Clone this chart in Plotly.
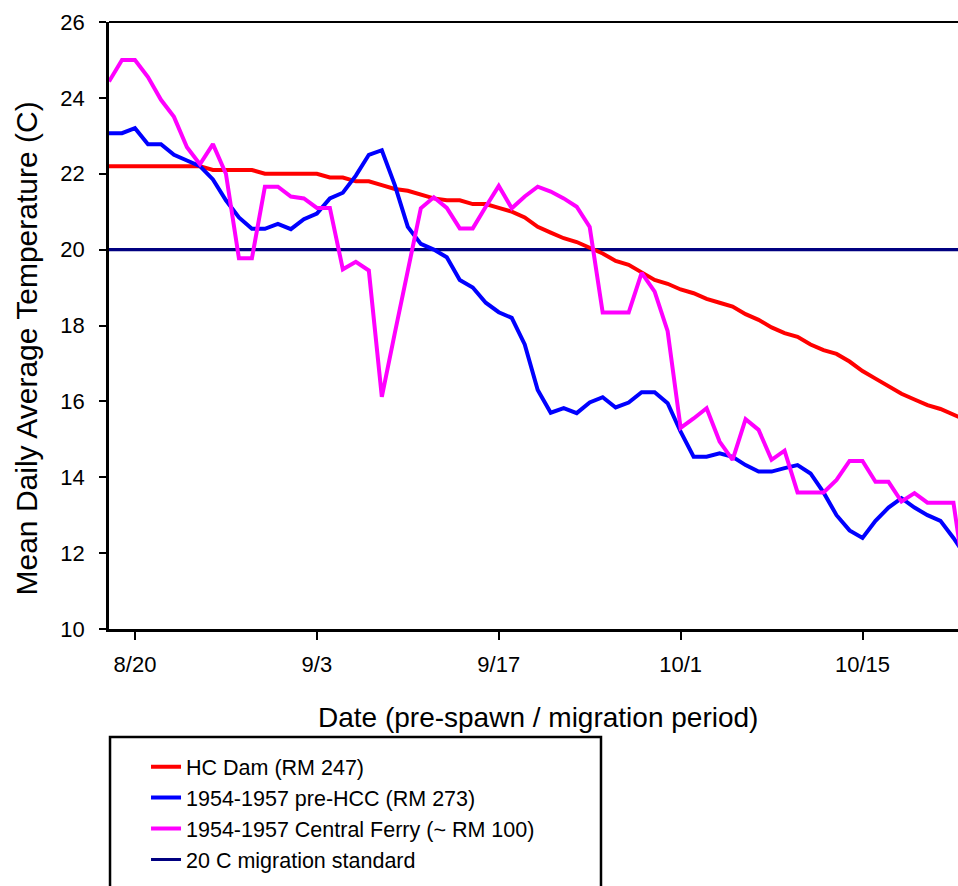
import pandas as pd
import plotly.graph_objects as go

# ---- data (daily values, starting 8/18) ----
start_date = "2001-08-18"

hc_dam = [22.2, 22.2, 22.2, 22.2, 22.2, 22.2, 22.2, 22.2, 22.1, 22.1,
          22.1, 22.1, 22.0, 22.0, 22.0, 22.0, 22.0, 21.9, 21.9, 21.8,
          21.8, 21.7, 21.6, 21.55, 21.45, 21.35, 21.3, 21.3, 21.2, 21.2,
          21.1, 21.0, 20.85, 20.6, 20.45, 20.3, 20.2, 20.05, 19.9, 19.7,
          19.6, 19.4, 19.2, 19.1, 18.95, 18.85, 18.7, 18.6, 18.5, 18.3,
          18.15, 17.95, 17.8, 17.7, 17.5, 17.35, 17.25, 17.05, 16.8, 16.6,
          16.4, 16.2, 16.05, 15.9, 15.8, 15.65, 15.5]

pre_hcc = [23.07, 23.07, 23.2, 22.78, 22.78, 22.5, 22.35, 22.2, 21.85, 21.3,
           20.85, 20.55, 20.55, 20.68, 20.54, 20.8, 20.95, 21.35, 21.5, 21.95,
           22.5, 22.62, 21.7, 20.6, 20.15, 20.0, 19.8, 19.2, 19.0, 18.6,
           18.35, 18.2, 17.5, 16.3, 15.7, 15.82, 15.69, 15.97, 16.11, 15.84,
           15.97, 16.24, 16.24, 15.95, 15.2, 14.54, 14.54, 14.63, 14.54, 14.32,
           14.15, 14.15, 14.24, 14.32, 14.1, 13.6, 13.0, 12.6, 12.4, 12.85,
           13.2, 13.45, 13.2, 13.0, 12.85, 12.4, 11.9]

central_ferry = [24.43, 25.0, 25.0, 24.55, 23.95, 23.5, 22.7, 22.25, 22.78, 22.0,
                 19.77, 19.77, 21.66, 21.66, 21.4, 21.35, 21.1, 21.1, 19.48, 19.68,
                 19.45, 16.12, 17.8, 19.45, 21.09, 21.38, 21.1, 20.56, 20.56, 21.13,
                 21.68, 21.09, 21.4, 21.66, 21.53, 21.35, 21.13, 20.6, 18.34, 18.34,
                 18.34, 19.39, 18.89, 17.85, 15.3, 15.55, 15.82, 14.94, 14.46, 15.53,
                 15.25, 14.46, 14.7, 13.6, 13.6, 13.6, 13.93, 14.43, 14.43, 13.88,
                 13.88, 13.36, 13.58, 13.33, 13.33, 13.33, 11.0]

standard_x = ["2001-08-17", "2001-10-25"]
standard_y = [20, 20]

tick_dates = ["2001-08-20", "2001-09-03", "2001-09-17", "2001-10-01", "2001-10-15"]
tick_labels = ["8/20", "9/3", "9/17", "10/1", "10/15"]
y_ticks = [10, 12, 14, 16, 18, 20, 22, 24, 26]

names = ["HC Dam (RM 247)", "1954-1957 pre-HCC (RM 273)",
         "1954-1957 Central Ferry (~ RM 100)", "20 C migration standard"]

dates = pd.date_range(start_date, periods=len(hc_dam), freq="D")

FONT = "Arial, Liberation Sans, Helvetica, sans-serif"

fig = go.Figure()
fig.add_trace(go.Scatter(x=standard_x, y=standard_y, mode="lines", name=names[3],
                         line=dict(color="#000080", width=3.2), legendrank=4))
fig.add_trace(go.Scatter(x=dates, y=hc_dam, mode="lines", name=names[0],
                         line=dict(color="#FF0000", width=4), legendrank=1))
fig.add_trace(go.Scatter(x=dates, y=pre_hcc, mode="lines", name=names[1],
                         line=dict(color="#0000FF", width=4), legendrank=2))
fig.add_trace(go.Scatter(x=dates, y=central_ferry, mode="lines", name=names[2],
                         line=dict(color="#FF00FF", width=4), legendrank=3))

fig.update_layout(
    width=958, height=886,
    margin=dict(l=109, r=0, t=22, b=257),
    paper_bgcolor="white", plot_bgcolor="white",
    font=dict(family=FONT, color="black"),
    showlegend=True,
    legend=dict(x=0.0436, y=-0.193, xanchor="left", yanchor="top",
                bgcolor="rgba(0,0,0,0)", borderwidth=0,
                font=dict(size=21.5, family=FONT, color="black")),
    xaxis=dict(
        type="date",
        range=["2001-08-18", "2001-10-22 08:24"],
        tickvals=tick_dates, ticktext=tick_labels,
        ticks="outside", ticklen=8, tickwidth=2, tickcolor="black",
        showline=True, linecolor="black", linewidth=2.5,
        showgrid=False, zeroline=False,
        tickfont=dict(size=22, family=FONT, color="black"),
        ticklabelstandoff=6,
    ),
    yaxis=dict(
        range=[10, 26], tickvals=y_ticks,
        ticks="outside", ticklen=7, tickwidth=2, tickcolor="black",
        showline=True, linecolor="black", linewidth=2.5,
        showgrid=False, zeroline=False,
        tickfont=dict(size=22, family=FONT, color="black"),
        ticklabelstandoff=10,
    ),
    shapes=[
        dict(type="line", xref="paper", yref="paper", x0=0, x1=1, y0=1, y1=1,
             line=dict(color="black", width=2)),
        dict(type="rect", xref="paper", yref="paper",
             x0=0.0012, x1=0.5795, y0=-0.178, y1=-0.46,
             line=dict(color="black", width=2.5), fillcolor="rgba(0,0,0,0)"),
    ],
    annotations=[
        dict(text="Mean Daily Average Temperature (C)", xref="paper", yref="paper",
             x=0, y=0.5, xshift=-83, yshift=-23, textangle=-90,
             xanchor="center", yanchor="middle", showarrow=False,
             font=dict(size=30, family=FONT, color="black")),
        dict(text="Date (pre-spawn / migration period)", xref="paper", yref="paper",
             x=0.5, y=0, xshift=4, yshift=-88,
             xanchor="center", yanchor="middle", showarrow=False,
             font=dict(size=28, family=FONT, color="black")),
    ],
)

fig.write_html("out.html")
